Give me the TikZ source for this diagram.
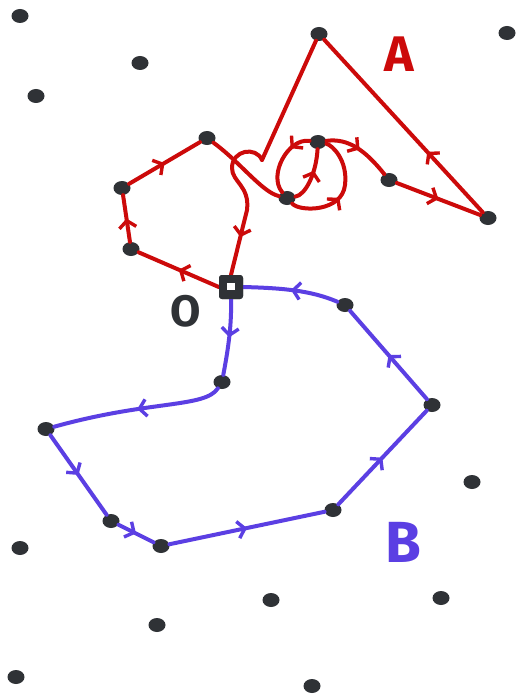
\documentclass[tikz,border=0pt]{standalone}
\usepackage{fontspec}
\setmainfont{Fira Sans}
\usetikzlibrary{decorations.markings,arrows.meta,shapes.geometric}
\definecolor{redc}{HTML}{CC0A0A}
\definecolor{bluec}{HTML}{5B3FE3}
\definecolor{dotc}{HTML}{2F3236}
\tikzset{
  dot/.style={ellipse,fill=dotc,minimum width=17pt,minimum height=14pt,inner sep=0pt},
  redline/.style={draw=redc,line width=4pt,line cap=round,line join=round},
  blueline/.style={draw=bluec,line width=4pt,line cap=round,line join=round},
  midarrow/.style={postaction={decorate},decoration={markings,mark=at position #1 with {\arrow{Straight Barb[length=7pt,width=17pt,line width=3.4pt]}}}},
  midarrow/.default=0.5,
  origin/.style={fill=dotc,rounded corners=3pt,minimum size=24pt,inner sep=0pt},
}
\begin{document}
\begin{tikzpicture}[x=1pt,y=-1pt]
\useasboundingbox (0,0) rectangle (523,698);
\fill[white] (0,0) rectangle (523,698);
% scattered dots
\foreach \p in {(20,16),(140,63),(36,96),(507,33),(472,482),(20,548),(157,625),(271,600),(441,598),(16,677),(312,686)}
  \node[dot] at \p {};
% red nodes
\node[dot] (r8) at (319,34) {};
\node[dot] (r3) at (207,138) {};
\node[dot] (r2) at (122,188) {};
\node[dot] (r1) at (131,249) {};
\node[dot] (r5) at (318,142) {};
\node[dot] (r4) at (287,198) {};
\node[dot] (r6) at (389,180) {};
\node[dot] (r7) at (488,218) {};
\coordinate (lp) at (262,160);
% blue nodes
\node[dot] (b7) at (345,305) {};
\node[dot] (b6) at (432,405) {};
\node[dot] (b5) at (333,510) {};
\node[dot] (b4) at (161,546) {};
\node[dot] (b3) at (111,521) {};
\node[dot] (b2) at (46,429) {};
\node[dot] (b1) at (222,382) {};
% origin
\node[origin] (O) at (231,287) {};
% red path
\path[redline,midarrow] (O.west) -- (r1);
\path[redline,midarrow] (r1) -- (r2);
\path[redline,midarrow] (r2) -- (r3);
\path[redline] (r3) .. controls (240,162) and (262,192) .. (r4);
\path[redline,midarrow=0.6] (r4) .. controls (305,195) and (316,175) .. (r5);
\path[redline,midarrow=0.3] (r5) .. controls (288,138) and (268,175) .. (r4);
\path[redline,midarrow=0.45] (r4) .. controls (300,212) and (342,212) .. (345,185) .. controls (348,160) and (332,145) .. (r5);
\path[redline,midarrow] (r5) .. controls (348,138) and (365,150) .. (r6);
\path[redline,midarrow] (r6) -- (r7);
\path[redline,midarrow=0.35] (r7) -- (r8);
\path[redline] (r8) -- (lp);
\path[redline,midarrow=0.75] (lp) .. controls (256,146) and (232,150) .. (232,168) .. controls (232,182) and (250,186) .. (247,210) -- (O.north);
% blue path
\path[blueline,midarrow] (O.south) .. controls (232,330) and (226,360) .. (b1);
\path[blueline,midarrow] (b1) .. controls (205,408) and (150,400) .. (b2);
\path[blueline,midarrow] (b2) -- (b3);
\path[blueline,midarrow] (b3) -- (b4);
\path[blueline,midarrow] (b4) -- (b5);
\path[blueline,midarrow] (b5) -- (b6);
\path[blueline,midarrow] (b6) -- (b7);
\path[blueline,midarrow] (b7) .. controls (310,290) and (280,288) .. (O.east);
\node[origin] at (231,287) {};
\fill[white] (227,283) rectangle (235,290);
% labels
\node[text=redc,font=\fontsize{50}{50}\selectfont\bfseries] (A) at (399,54) {A};
\node[text=bluec,font=\fontsize{58}{58}\selectfont\bfseries] (B) at (403,542) {B};
\node[text=dotc,font=\fontsize{44}{44}\selectfont\bfseries] (Olab) at (186,311) {O};
\end{tikzpicture}
\end{document}
